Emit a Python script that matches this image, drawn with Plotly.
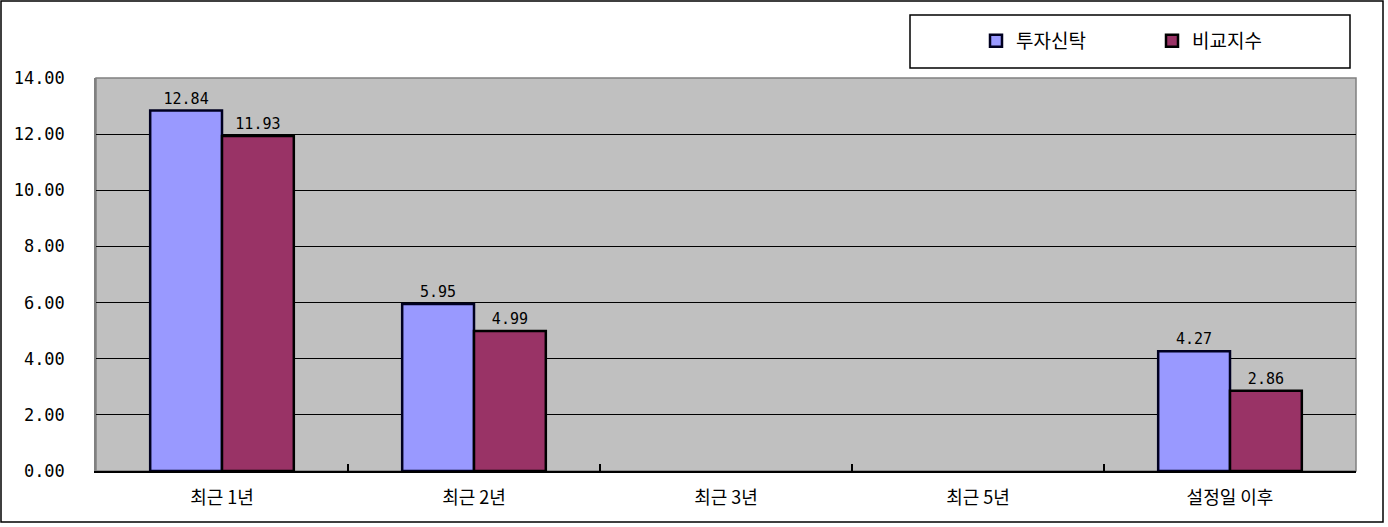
import plotly.graph_objects as go

categories = ["최근 1년", "최근 2년", "최근 3년", "최근 5년", "설정일 이후"]
fund_name = "투자신탁"
bench_name = "비교지수"
fund_values = [12.84, 5.95, None, None, 4.27]
bench_values = [11.93, 4.99, None, None, 2.86]
y_ticks = [0, 2, 4, 6, 8, 10, 12, 14]

FONT = "Noto Sans CJK KR, DejaVu Sans, sans-serif"
NUMFONT = "DejaVu Sans Mono, monospace"
W, H = 1388, 527
ML, MR, MT, MB = 96, 32, 78, 56
PW, PH = W - ML - MR, H - MT - MB

def px_x(p):
    return (p - ML) / PW

def px_y(p):
    return (H - MB - p) / PH

fig = go.Figure()
fig.add_trace(go.Bar(
    x=categories, y=fund_values, name=fund_name,
    marker=dict(color="#9999FF", line=dict(color="#000020", width=2.5)),
    texttemplate="%{y:.2f}", textposition="outside",
    textfont=dict(size=15, color="#000000", family=NUMFONT),
    cliponaxis=False,
))
fig.add_trace(go.Bar(
    x=categories, y=bench_values, name=bench_name,
    marker=dict(color="#993366", line=dict(color="#000000", width=2.5)),
    texttemplate="%{y:.2f}", textposition="outside",
    textfont=dict(size=15, color="#000000", family=NUMFONT),
    cliponaxis=False,
))

shapes = [
    # outer frame
    dict(type="rect", xref="paper", yref="paper",
         x0=px_x(1), x1=px_x(1383), y0=px_y(522), y1=px_y(1),
         line=dict(color="#000000", width=1.5), layer="below"),
    # plot area border
    dict(type="rect", xref="paper", yref="paper",
         x0=0, x1=1, y0=0, y1=1,
         line=dict(color="#808080", width=1.5), layer="below"),
    # legend box
    dict(type="rect", xref="paper", yref="paper",
         x0=px_x(910), x1=px_x(1350), y0=px_y(68), y1=px_y(15),
         line=dict(color="#000000", width=1.5), fillcolor="#FFFFFF", layer="below"),
]

fig.update_layout(
    width=W, height=H,
    autosize=False,
    margin=dict(l=ML, r=MR, t=MT, b=MB, pad=0),
    paper_bgcolor="#FFFFFF",
    plot_bgcolor="#C0C0C0",
    barmode="group",
    bargap=0.43,
    bargroupgap=0,
    font=dict(family=FONT, size=13, color="#000000"),
    showlegend=True,
    legend=dict(
        orientation="h",
        x=px_x(976), xanchor="left",
        y=px_y(41), yanchor="middle",
        bgcolor="rgba(0,0,0,0)",
        font=dict(size=19, family=FONT, color="#000000"),
        entrywidth=131, entrywidthmode="pixels",
        itemwidth=30,
    ),
    shapes=shapes,
    xaxis=dict(
        type="category",
        showgrid=False,
        showline=True, linecolor="#000000", linewidth=1.5,
        ticks="inside", ticklen=7, tickcolor="#000000", tickwidth=1.5,
        tickson="boundaries",
        tickfont=dict(size=18, family=FONT, color="#000000"),
        ticklabelstandoff=10,
    ),
    yaxis=dict(
        range=[0, 14],
        tickvals=y_ticks,
        tickformat=".2f",
        showgrid=True, gridcolor="#000000", gridwidth=1.2,
        zeroline=False,
        showline=True, linecolor="#808080", linewidth=1.5,
        ticks="",
        tickfont=dict(size=17, family=NUMFONT, color="#000000"),
        ticklabelstandoff=26,
    ),
)

fig.write_html(
    "out.html",
    config={"displayModeBar": False},
    post_script="document.body.style.margin='0';document.body.style.padding='0';",
)
